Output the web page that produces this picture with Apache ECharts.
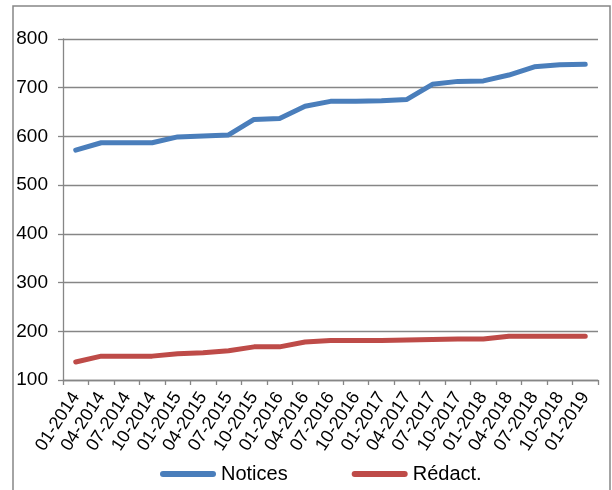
<!DOCTYPE html>
<html>
<head>
<meta charset="utf-8">
<script src="https://cdn.jsdelivr.net/npm/echarts@6/dist/echarts.min.js"></script>
<style>
html,body{margin:0;padding:0;background:#fff;}
#chart{width:612px;height:490px;}
</style>
</head>
<body>
<div id="chart"></div>
<script>
const categories = ['01-2014','04-2014','07-2014','10-2014','01-2015','04-2015','07-2015','10-2015','01-2016','04-2016','07-2016','10-2016','01-2017','04-2017','07-2017','10-2017','01-2018','04-2018','07-2018','10-2018','01-2019'];
const notices = [572,587,587,587,599,601,603,635,637,662,672,672,673,676,707,713,714,726,743,747,748];
const redact = [137,149,149,149,154,156,160,168,168,178,181,181,181,182,183,184,184,190,190,190,190];
const yTicks = {min:100, max:800, interval:100};

const chart = echarts.init(document.getElementById('chart'), null, {renderer:'canvas'});
const font = 'Liberation Sans, Arial, sans-serif';
const gray = '#868686';
const legendIcon = 'path://M3,0 L53,0 A3,3 0 0 1 53,6 L3,6 A3,3 0 0 1 3,0 Z';
chart.setOption({
  animation:false,
  textStyle:{fontFamily:font},
  graphic:[{
    type:'rect', shape:{x:13, y:6, width:597, height:500},
    style:{fill:'none', stroke:gray, lineWidth:1.5}, silent:true
  }],
  grid:{left:63, right:14, top:39, bottom:110, containLabel:false},
  legend:{
    left:155, top:459, icon:legendIcon, itemWidth:56, itemHeight:6, itemGap:64, itemTextGap:4,
    textStyle:{fontFamily:font, fontSize:20, color:'#000'},
    data:['Notices','Rédact.']
  },
  xAxis:{
    type:'category', data:categories, boundaryGap:true,
    axisLine:{lineStyle:{color:gray, width:1.3}},
    axisTick:{show:true, length:5, alignWithLabel:false, lineStyle:{color:gray, width:1.3}},
    axisLabel:{rotate:57, interval:0, fontSize:18, color:'#000', margin:14, fontFamily:font}
  },
  yAxis:{
    type:'value', min:yTicks.min, max:yTicks.max, interval:yTicks.interval,
    axisLine:{show:true, lineStyle:{color:gray, width:1.3}},
    axisTick:{show:true, length:5, lineStyle:{color:gray, width:1.3}},
    splitLine:{show:true, lineStyle:{color:gray, width:1.3}},
    axisLabel:{fontSize:19, color:'#000', margin:15, fontFamily:font}
  },
  series:[
    {name:'Notices', type:'line', data:notices, symbol:'none', smooth:false,
     lineStyle:{color:'#4a7ebb', width:5, cap:'round', join:'round'}, itemStyle:{color:'#4a7ebb'}},
    {name:'Rédact.', type:'line', data:redact, symbol:'none', smooth:false,
     lineStyle:{color:'#be4b48', width:5, cap:'round', join:'round'}, itemStyle:{color:'#be4b48'}}
  ]
});
</script>
</body>
</html>
